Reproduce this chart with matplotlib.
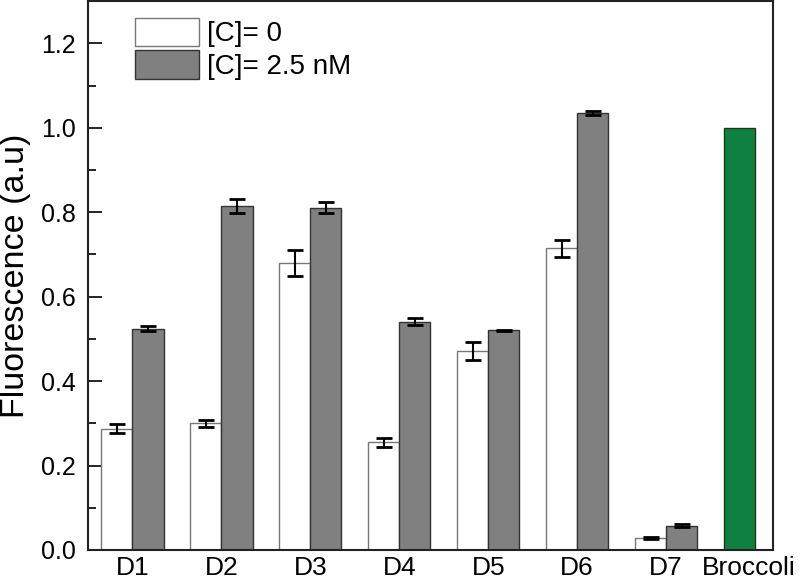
import matplotlib
matplotlib.use("Agg")
import matplotlib.pyplot as plt
import matplotlib.transforms as mtransforms
import numpy as np
from matplotlib.ticker import MultipleLocator

plt.rcParams['font.family'] = ['Liberation Sans', 'DejaVu Sans']

categories = ["D1", "D2", "D3", "D4", "D5", "D6", "D7", "Broccoli"]
c0_vals = [0.287, 0.300, 0.680, 0.255, 0.472, 0.715, 0.028]
c0_err = [0.011, 0.008, 0.030, 0.010, 0.021, 0.020, 0.002]
c25_vals = [0.524, 0.815, 0.811, 0.541, 0.520, 1.035, 0.058]
c25_err = [0.006, 0.016, 0.013, 0.008, 0.002, 0.004, 0.003]
broccoli_val = 1.0
ytick_vals = [0.0, 0.2, 0.4, 0.6, 0.8, 1.0, 1.2]

fig = plt.figure(figsize=(8, 5.82), dpi=100)
ax = fig.add_axes([0.11, 0.055, 0.856, 0.943])

x = np.arange(1, len(categories) + 1)
w = 0.35
n = len(c0_vals)
ax.bar(x[:n] - w/2, c0_vals, w, color='white', edgecolor='#777777', linewidth=1.0,
       label='[C]= 0', zorder=2)
ax.bar(x[:n] + w/2, c25_vals, w, color='#808080', edgecolor='#333333', linewidth=1.0,
       label='[C]= 2.5 nM', zorder=2)
ax.errorbar(x[:n] - w/2, c0_vals, yerr=c0_err, fmt='none', ecolor='black',
            elinewidth=1.5, capsize=6, capthick=2, zorder=3)
ax.errorbar(x[:n] + w/2, c25_vals, yerr=c25_err, fmt='none', ecolor='black',
            elinewidth=1.5, capsize=6, capthick=2, zorder=3)
ax.bar([x[-1] - w/2], [broccoli_val], w, color='#108040', edgecolor='#1a3a1a',
       linewidth=1.0, zorder=2)

ax.set_xlim(0.5, 8.2)
ax.set_ylim(0, 1.3)
ax.set_xticks(x)
ax.set_xticklabels(categories, fontsize=19)
ax.tick_params(axis='x', length=0, pad=4)
last = ax.get_xticklabels()[-1]
last.set_transform(last.get_transform() +
                   mtransforms.ScaledTranslation(-6/100, 0, fig.dpi_scale_trans))
ax.yaxis.set_minor_locator(MultipleLocator(0.1))
ax.set_yticks(ytick_vals)
ax.set_yticklabels([f"{v:.1f}" for v in ytick_vals], fontsize=18)
ax.tick_params(axis='y', which='both', direction='in', length=10, width=1.2, pad=9)
ax.tick_params(axis='y', which='minor', length=6)
ax.set_ylabel('Fluorescence (a.u)', fontsize=24.5, labelpad=7)
for s in ax.spines.values():
    s.set_linewidth(1.5)
    s.set_color('#222222')

ax.legend(loc='upper left', bbox_to_anchor=(0.044, 1.0), frameon=False, fontsize=20,
          handlelength=2.3, handleheight=1.2, handletextpad=0.3, labelspacing=0.1,
          borderaxespad=0.2)

fig.savefig('out.png', dpi=100)
